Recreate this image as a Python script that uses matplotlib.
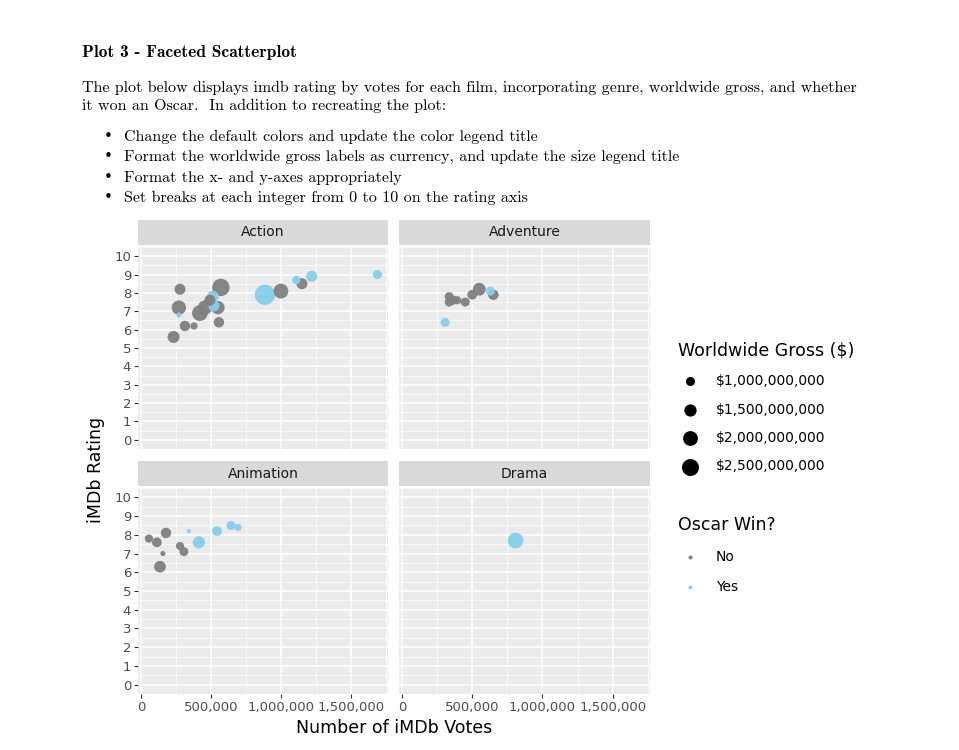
import matplotlib
matplotlib.use('Agg')
import matplotlib.pyplot as plt
import numpy as np
from matplotlib.ticker import FuncFormatter, MultipleLocator

W, H = 959, 750
DPI = 100

# votes (thousands), rating, worldwide gross ($B), oscar win
action_votes = [233, 279, 271, 271, 314, 379, 421, 457, 493, 514, 521, 557, 550, 571, 886, 1000, 1150, 1110, 1220, 1690, 480]
action_rating = [5.6, 8.2, 7.2, 6.8, 6.2, 6.2, 6.9, 7.2, 7.6, 7.8, 7.3, 6.4, 7.2, 8.3, 7.9, 8.1, 8.5, 8.7, 8.9, 9.0, 7.5]
action_gross = [1.45, 1.3, 1.9, 0.6, 1.2, 0.8, 2.2, 1.9, 1.3, 1.4, 1.3, 1.2, 1.7, 2.6, 3.4, 2.0, 1.3, 0.9, 1.3, 1.0, 0.8]
action_oscar = ['No', 'No', 'No', 'Yes', 'No', 'No', 'No', 'No', 'No', 'Yes', 'Yes', 'No', 'No', 'No', 'Yes', 'No', 'No', 'Yes', 'Yes', 'Yes', 'No']

adventure_votes = [336, 336, 365, 393, 450, 500, 550, 629, 650, 307]
adventure_rating = [7.5, 7.8, 7.6, 7.6, 7.5, 7.9, 8.2, 8.1, 7.9, 6.4]
adventure_gross = [1.0, 1.0, 1.0, 0.9, 1.0, 1.1, 1.6, 1.0, 1.2, 1.0]
adventure_oscar = ['No', 'No', 'No', 'No', 'No', 'No', 'No', 'Yes', 'No', 'Yes']

animation_votes = [57, 114, 179, 157, 136, 279, 307, 343, 414, 543, 643, 693]
animation_rating = [7.8, 7.6, 8.1, 7.0, 6.3, 7.4, 7.1, 8.2, 7.6, 8.2, 8.5, 8.4]
animation_gross = [0.9, 1.1, 1.2, 0.6, 1.4, 0.9, 1.0, 0.4, 1.5, 1.1, 1.0, 0.8]
animation_oscar = ['No', 'No', 'No', 'No', 'No', 'No', 'No', 'Yes', 'Yes', 'Yes', 'Yes', 'Yes']

drama_votes = [807]
drama_rating = [7.7]
drama_gross = [2.2]
drama_oscar = ['Yes']

genres = ['Action', 'Adventure', 'Animation', 'Drama']
panels = {
    'Action': (action_votes, action_rating, action_gross, action_oscar),
    'Adventure': (adventure_votes, adventure_rating, adventure_gross, adventure_oscar),
    'Animation': (animation_votes, animation_rating, animation_gross, animation_oscar),
    'Drama': (drama_votes, drama_rating, drama_gross, drama_oscar),
}
legend_gross = [1.0, 1.5, 2.0, 2.5]
colors = {'No': '#808080', 'Yes': '#87CEEB'}


def size_of(g):
    # area in px^2, linear in gross, converted to pt^2
    area = np.maximum(16, -57.7 + 138.7 * np.asarray(g))
    return area * (72 / DPI) ** 2


fig = plt.figure(figsize=(W / DPI, H / DPI), dpi=DPI)


def px_axes(x0, y0, x1, y1):
    return fig.add_axes([x0 / W, 1 - y1 / H, (x1 - x0) / W, (y1 - y0) / H])


boxes = {
    'Action': (138, 247, 388, 449),
    'Adventure': (399, 247, 650, 449),
    'Animation': (138, 488, 388, 694),
    'Drama': (399, 488, 650, 694),
}
for i, g in enumerate(genres):
    x0, y0, x1, y1 = boxes[g]
    ax = px_axes(x0, y0, x1, y1)
    ax.set_facecolor('#EBEBEB')
    for s in ax.spines.values():
        s.set_visible(False)
    ax.set_xlim(-21, 1765)
    ax.set_ylim(-0.5, 10.5)
    ax.xaxis.set_major_locator(MultipleLocator(500))
    ax.xaxis.set_minor_locator(MultipleLocator(250))
    ax.yaxis.set_major_locator(MultipleLocator(1))
    ax.yaxis.set_minor_locator(MultipleLocator(0.5))
    ax.grid(which='major', color='white', lw=1.1)
    ax.grid(which='minor', color='white', lw=0.5)
    ax.set_axisbelow(True)
    ax.tick_params(which='minor', length=0)
    ax.tick_params(which='major', length=3, color='#333333', labelsize=9.5,
                   labelcolor='#4D4D4D', pad=2)
    ax.xaxis.set_major_formatter(FuncFormatter(lambda v, p: '{:,}'.format(int(v * 1000))))
    if i < 2:
        ax.tick_params(axis='x', length=0, labelbottom=False)
    if i % 2 == 1:
        ax.tick_params(axis='y', length=0, labelleft=False)
    v, r, gr, o = panels[g]
    order = np.argsort(gr)[::-1]
    v, r, gr, o = (np.array(a)[order] for a in (v, r, gr, o))
    ax.scatter(v, r, s=size_of(gr), c=[colors[k] for k in o], lw=0, alpha=0.95)
    # strip
    sax = px_axes(x0, y0 - 27, x1, y0 - 2)
    sax.set_facecolor('#D9D9D9')
    sax.set_xticks([])
    sax.set_yticks([])
    for s in sax.spines.values():
        s.set_visible(False)
    sax.text(0.5, 0.5, g, ha='center', va='center', fontsize=10, color='#1A1A1A',
             transform=sax.transAxes)

# overlay for text and legend, pixel coordinates
ov = fig.add_axes([0, 0, 1, 1], zorder=-1)
ov.set_xlim(0, W)
ov.set_ylim(H, 0)
ov.axis('off')

serif = ['cmr10', 'DejaVu Serif']
ov.text(82, 57, 'Plot 3 - Faceted Scatterplot', fontsize=12.5, family=['cmb10', 'DejaVu Serif'],
        fontweight='bold', va='baseline')
ov.text(82, 92, 'The plot below displays imdb rating by votes for each film, incorporating genre, '
        'worldwide gross, and whether', fontsize=11.5, family=serif, va='baseline')
ov.text(82, 110, 'it won an Oscar.  In addition to recreating the plot:', fontsize=11.5,
        family=serif, va='baseline')
bullets = ['Change the default colors and update the color legend title',
           'Format the worldwide gross labels as currency, and update the size legend title',
           'Format the x- and y-axes appropriately',
           'Set breaks at each integer from 0 to 10 on the rating axis']
for k, b in enumerate(bullets):
    yb = 141 + k * 20.3
    ov.text(104, yb, '\u2022', fontsize=11, family='DejaVu Sans', va='baseline')
    ov.text(124, yb, b, fontsize=11.5, family=serif, va='baseline')

ov.text(96, 470, 'iMDb Rating', rotation=90, ha='center', va='center', fontsize=12.5)
ov.text(394, 728, 'Number of iMDb Votes', ha='center', va='center', fontsize=12.5)

ov.text(678, 350, 'Worldwide Gross ($)', fontsize=12.5, va='center')
for k, g in enumerate(legend_gross):
    yy = 381 + k * 28.5
    ov.scatter([690], [yy], s=size_of([g]), c='black', lw=0)
    ov.text(716, yy, '${:,}'.format(int(g * 1e9)), fontsize=10, va='center')
ov.text(678, 525, 'Oscar Win?', fontsize=12.5, va='center')
for k, lab in enumerate(['No', 'Yes']):
    yy = 557 + k * 30
    ov.scatter([690], [yy], s=size_of([0.5]), c=colors[lab], lw=0)
    ov.text(716, yy, lab, fontsize=10, va='center')

fig.savefig('out.png', dpi=DPI)
